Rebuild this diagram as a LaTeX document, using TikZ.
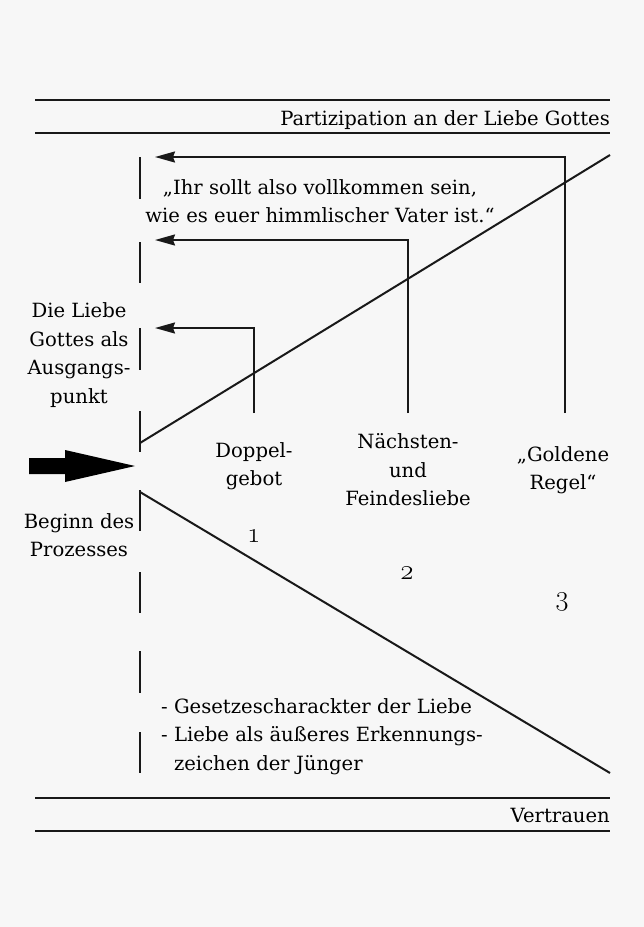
\documentclass[tikz,border=0pt]{standalone}
\usepackage{fontspec}
\setmainfont{DejaVu Serif}
\newfontfamily\lmfont{Latin Modern Roman}[Numbers=OldStyle]
\usetikzlibrary{arrows.meta}
\begin{document}
\begin{tikzpicture}[x=1pt,y=-1pt,
  lbl/.style={font=\fontsize{19.6}{28.5}\selectfont, inner sep=0pt, align=center},
  num/.style={font=\fontsize{28}{30}\selectfont\lmfont, inner sep=0pt},
  ln/.style={line width=2pt, black!90},
  arr/.style={line width=2pt, black!90, -{Stealth[length=20pt,width=11pt,inset=2pt]}},
  dsh/.style={line width=2pt, black!90}]
\useasboundingbox[fill=white!97!black] (0,0) rectangle (644,927);
% horizontal rules
\draw[ln] (35,100) -- (610,100);
\draw[ln] (35,133) -- (610,133);
\draw[ln] (35,798) -- (610,798);
\draw[ln] (35,831) -- (610,831);
\node[lbl, anchor=base east] (part) at (610,125) {Partizipation an der Liebe Gottes};
\node[lbl, anchor=base east] (vert) at (610,822) {Vertrauen};
% dashed vertical line
\foreach \a/\b in {157/199,242/283,328/370,411/452,490/531,572/613,651/693,732/773}
  \draw[dsh] (140,\a) -- (140,\b);
% diagonals
\coordinate (apex1) at (140,443);
\coordinate (apex2) at (140,492);
\coordinate (ur) at (610,155);
\coordinate (lr) at (610,773);
\draw[ln] (apex1) -- (ur);
\draw[ln] (apex2) -- (lr);
% big arrow
\fill[black] (29,458) -- (65,458) -- (65,450) -- (135,466) -- (65,482) -- (65,474) -- (29,474) -- cycle;
% labels
\node[lbl] (liebe) at (79,355) {Die Liebe\\Gottes als\\Ausgangs-\\punkt};
\node[lbl] (beginn) at (79,535) {Beginn des\\Prozesses};
\node[lbl] (dopp) at (254,466) {Doppel-\\gebot};
\node[lbl] (naech) at (408,470) {N\"achsten-\\und\\Feindesliebe};
\node[lbl] (gold) at (563,470) {\char"201EGoldene\\Regel\char"201C};
\node[lbl] (quote) at (320,201) {\char"201EIhr sollt also vollkommen sein,\\wie es euer himmlischer Vater ist.\char"201C};
\node[num] (n1) at (254,536) {1};
\node[num] (n2) at (407,573) {2};
\node[num] (n3) at (562,602) {3};
\node[lbl, align=left, anchor=north west] (list) at (161,698) {- Gesetzescharackter der Liebe\\- Liebe als \"au\ss{}eres Erkennungs-\\\hphantom{- }zeichen der J\"unger};
% feedback arrows
\coordinate (t1) at (155,157);
\coordinate (t2) at (155,240);
\coordinate (t3) at (155,328);
\coordinate (s1) at (565,413);
\coordinate (s2) at (408,413);
\coordinate (s3) at (254,413);
\draw[arr] (s1) |- (t1);
\draw[arr] (s2) |- (t2);
\draw[arr] (s3) |- (t3);
\end{tikzpicture}
\end{document}
